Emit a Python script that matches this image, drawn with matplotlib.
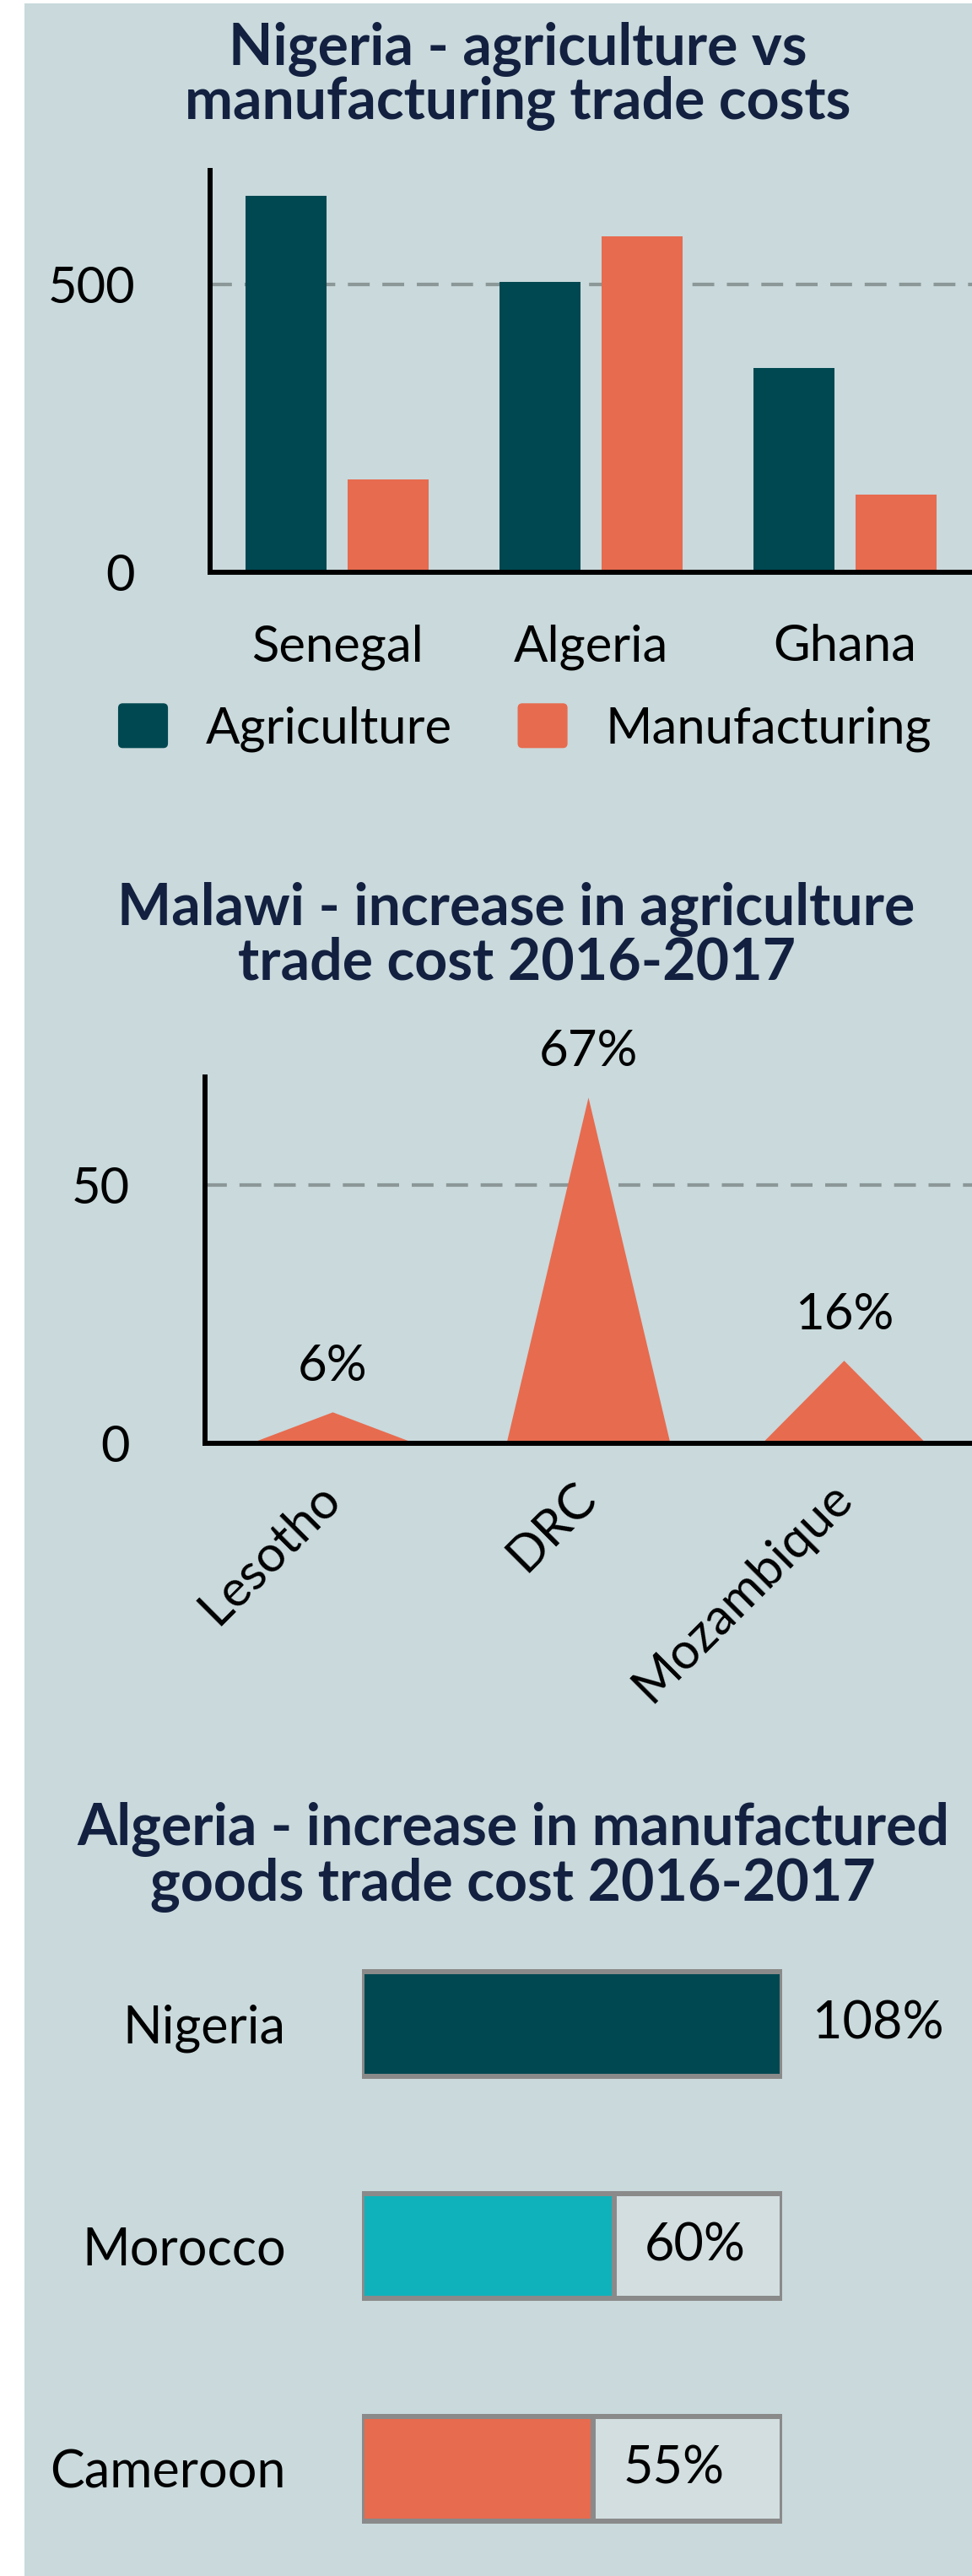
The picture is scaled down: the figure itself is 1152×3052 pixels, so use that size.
import numpy as np
import matplotlib
matplotlib.use("Agg")
import matplotlib.pyplot as plt
from matplotlib.patches import Patch, FancyBboxPatch
from matplotlib.legend_handler import HandlerPatch

# chart 1: Nigeria trade costs
partners1 = ["Senegal", "Algeria", "Ghana"]
agriculture = [653, 504, 354]
manufacturing = [161, 583, 135]

# chart 2: Malawi agriculture increase (%)
partners2 = ["Lesotho", "DRC", "Mozambique"]
malawi_increase = [6, 67, 16]

# chart 3: Algeria manufactured goods increase (%)
partners3 = ["Nigeria", "Morocco", "Cameroon"]
algeria_increase = [108, 60, 55]

BG = "#c9d9dc"
NAVY = "#13203f"
DARK = "#004851"
ORANGE = "#e76b4f"
TEAL = "#0fb2ba"
GRID = "#8c9797"
BOX = "#8a8a8a"
FS = 43

plt.rcParams["font.family"] = ["Lato", "DejaVu Sans"]

W, H = 1152, 3052
fig = plt.figure(figsize=(W / 100, H / 100), dpi=100)
fig.patch.set_facecolor("white")
fig.patches.append(plt.Rectangle((29 / W, 0), 1, 1 - 4 / H, transform=fig.transFigure,
                                 facecolor=BG, edgecolor="none", zorder=-10))


def px_axes(left, top, right, bottom):
    return fig.add_axes([left / W, 1 - bottom / H, (right - left) / W, (bottom - top) / H])


def title(lines, baselines, x=614):
    for txt, yb in zip(lines, baselines):
        fig.text(x / W, 1 - yb / H, txt, ha="center", va="baseline",
                 fontsize=49, fontweight="bold", color=NAVY)


def style_axes(ax):
    ax.set_facecolor("none")
    for s in ("top", "right"):
        ax.spines[s].set_visible(False)
    for s in ("left", "bottom"):
        ax.spines[s].set_linewidth(4.3)
        ax.spines[s].set_color("black")
    ax.tick_params(length=0, labelsize=FS, colors="black")
    ax.yaxis.grid(True, color=GRID, linewidth=3, linestyle=(0, (6.2, 3.6)))
    ax.set_axisbelow(True)


# ---------- chart 1 ----------
title(["Nigeria - agriculture vs", "manufacturing trade costs"], [77, 141])
ax1 = px_axes(249, 202, 1152, 678)
style_axes(ax1)
x = np.arange(len(partners1))
ax1.bar(x - 0.2, agriculture, width=0.32, color=DARK, label="Agriculture")
ax1.bar(x + 0.2, manufacturing, width=0.32, color=ORANGE, label="Manufacturing")
ax1.set_xlim(-0.5, 2.5)
ax1.set_ylim(0, 697)
ax1.set_yticks([0, 500])
ax1.set_xticks(x, partners1)
ax1.tick_params(axis="y", pad=64)
ax1.tick_params(axis="x", pad=44)


class RoundHandler(HandlerPatch):
    def create_artists(self, legend, orig_handle, xdescent, ydescent, width, height, fontsize, trans):
        p = FancyBboxPatch((-xdescent, -ydescent), width, height,
                           boxstyle="round,pad=0,rounding_size=4",
                           facecolor=orig_handle.get_facecolor(), edgecolor="none", transform=trans)
        return [p]


handles = [Patch(facecolor=DARK, label="Agriculture"), Patch(facecolor=ORANGE, label="Manufacturing")]
fig.legend(handles=handles, loc="center", bbox_to_anchor=(622 / W, 1 - 862 / H), ncol=2,
           frameon=False, fontsize=43, handlelength=0.99, handleheight=0.99,
           handletextpad=0.75, columnspacing=1.3, handler_map={Patch: RoundHandler()})

# ---------- chart 2 ----------
title(["Malawi - increase in agriculture", "trade cost 2016-2017"], [1096, 1161], x=612)
ax2 = px_axes(243, 1276, 1152, 1710)
style_axes(ax2)
for i, v in enumerate(malawi_increase):
    ax2.fill([i - 0.32, i, i + 0.32], [0, v, 0], color=ORANGE, linewidth=0)
    ax2.annotate(f"{v}%", (i, v), xytext=(0, 27), textcoords="offset points",
                 ha="center", va="baseline", fontsize=FS)
ax2.set_xlim(-0.5, 2.5)
ax2.set_ylim(0, 71)
ax2.set_yticks([0, 50])
ax2.set_xticks(range(len(partners2)), partners2)
ax2.tick_params(axis="y", pad=64)
ax2.tick_params(axis="x", pad=40)
plt.setp(ax2.get_xticklabels(), rotation=45, ha="right", va="center", rotation_mode="anchor")

# ---------- chart 3 ----------
title(["Algeria - increase in manufactured", "goods trade cost 2016-2017"], [2186, 2252], x=608)
ax3 = px_axes(429, 2266, 927, 3030)
ax3.set_facecolor("none")
for s in ax3.spines.values():
    s.set_visible(False)
colors3 = [DARK, TEAL, ORANGE]
y = np.arange(len(partners3))
filled = np.minimum(algeria_increase, 100)
ax3.barh(y, [100] * len(y), height=0.47, color="#d2dee0", edgecolor=BOX, linewidth=4.3, zorder=1)
ax3.barh(y, filled, height=0.47, color=colors3, edgecolor=BOX, linewidth=4.3, zorder=2)
ax3.barh(y, [100] * len(y), height=0.47, fill=False, edgecolor=BOX, linewidth=4.3, zorder=3)
for yi, f, v in zip(y, filled, algeria_increase):
    ax3.annotate(f"{v}%", (f, yi), xytext=(26, 0), textcoords="offset points",
                 ha="left", va="center", fontsize=44)
ax3.set_xlim(0, 100)
ax3.set_ylim(2.4, -0.5)
ax3.set_xticks([])
ax3.set_yticks(y, partners3)
ax3.tick_params(axis="y", length=0, pad=65, labelsize=44)

fig.savefig("out.png", dpi=100, facecolor=fig.get_facecolor())
